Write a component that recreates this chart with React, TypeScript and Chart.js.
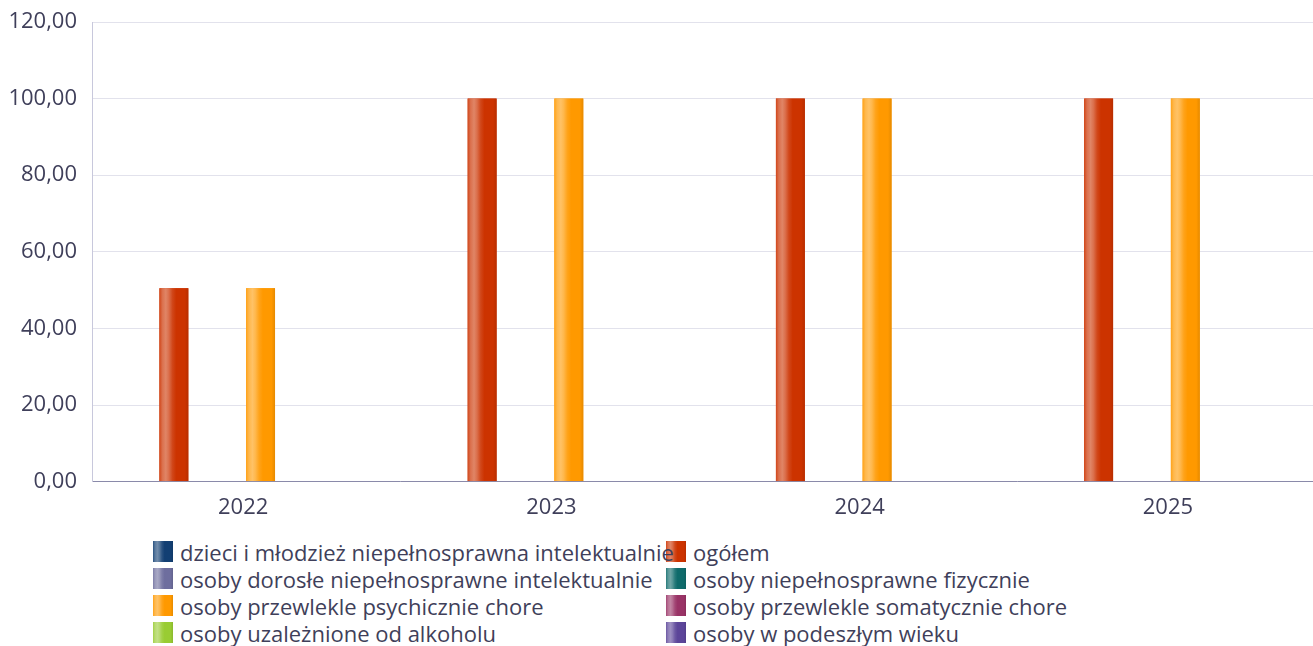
import React, { useEffect, useRef } from "react";
import { Chart, registerables } from "chart.js";

Chart.register(...registerables);

const categories = ["2022", "2023", "2024", "2025"];
const seriesNames = [
  "dzieci i młodzież niepełnosprawna intelektualnie",
  "ogółem",
  "osoby dorosłe niepełnosprawne intelektualnie",
  "osoby niepełnosprawne fizycznie",
  "osoby przewlekle psychicznie chore",
  "osoby przewlekle somatycznie chore",
  "osoby uzależnione od alkoholu",
  "osoby w podeszłym wieku",
];
const dzieci = [0, 0, 0, 0];
const ogolem = [50.5, 100, 100, 100];
const dorosle = [0, 0, 0, 0];
const fizycznie = [0, 0, 0, 0];
const psychicznie = [50.5, 100, 100, 100];
const somatycznie = [0, 0, 0, 0];
const alkohol = [0, 0, 0, 0];
const wieku = [0, 0, 0, 0];
const seriesValues = [dzieci, ogolem, dorosle, fizycznie, psychicznie, somatycznie, alkohol, wieku];
const seriesColors = ["#123f73", "#cc3300", "#6e6e9e", "#0f6b6b", "#ff9900", "#993366", "#99cc33", "#5c4599"];
const yTicks = [0, 20, 40, 60, 80, 100, 120];

const FONT = "'Open Sans', 'Noto Sans', sans-serif";
const TEXT = "#3f3f5a";

function hexToRgb(h: string) {
  const n = parseInt(h.slice(1), 16);
  return [(n >> 16) & 255, (n >> 8) & 255, n & 255];
}
function mix(h: string, t: number) {
  const [r, g, b] = hexToRgb(h);
  const f = (c: number) => Math.round(t >= 0 ? c + (255 - c) * t : c * (1 + t));
  return `rgb(${f(r)},${f(g)},${f(b)})`;
}
function stops(h: string): [number, string][] {
  return [
    [0, mix(h, 0.1)],
    [0.1, mix(h, 0.3)],
    [0.22, mix(h, 0.4)],
    [0.32, mix(h, 0.3)],
    [0.45, mix(h, 0.1)],
    [0.58, h],
    [0.88, h],
    [1, mix(h, -0.1)],
  ];
}
function cssGradient(h: string) {
  return `linear-gradient(to right, ${stops(h).map(([p, c]) => `${c} ${p * 100}%`).join(", ")})`;
}

const gradientPlugin = {
  id: "barGradient",
  afterDatasetsDraw(chart: any) {
    const ctx = chart.ctx;
    const area = chart.chartArea;
    ctx.save();
    ctx.beginPath();
    ctx.rect(area.left, area.top, area.right - area.left, area.bottom - area.top);
    ctx.clip();
    chart.data.datasets.forEach((ds: any, di: number) => {
      const meta = chart.getDatasetMeta(di);
      if (meta.hidden) return;
      const color = seriesColors[di];
      meta.data.forEach((el: any) => {
        const { x, y, base, width } = el.getProps(["x", "y", "base", "width"], true);
        const h = base - y;
        if (Math.abs(h) < 0.5) return;
        const left = x - width / 2;
        const g = ctx.createLinearGradient(left, 0, left + width, 0);
        stops(color).forEach(([p, c]) => g.addColorStop(p, c));
        ctx.fillStyle = g;
        ctx.fillRect(left, y, width, h);
      });
    });
    ctx.restore();
  },
};

export default function App() {
  const ref = useRef<HTMLCanvasElement>(null);
  useEffect(() => {
    document.body.style.margin = "0";
    document.body.style.overflow = "hidden";
    const chart = new Chart(ref.current!, {
      type: "bar",
      data: {
        labels: categories,
        datasets: seriesNames.map((name, i) => ({
          label: name,
          data: seriesValues[i],
          backgroundColor: seriesColors[i],
          borderWidth: 0,
          categoryPercentage: 0.75,
          barPercentage: 1.0,
        })),
      },
      options: {
        responsive: false,
        animation: false,
        layout: { padding: { top: 22, right: 0, bottom: 0, left: 0 } },
        plugins: { legend: { display: false }, tooltip: { enabled: false } },
        scales: {
          x: {
            grid: { display: false, drawTicks: false },
            border: { display: true, color: "#8a8aaa", width: 1 },
            ticks: { color: TEXT, font: { family: FONT, size: 22 }, padding: 13, labelOffset: -3 },
          },
          y: {
            min: 0,
            max: 120,
            afterFit: (s: any) => {
              s.width = 92;
              s.paddingTop = 0;
              s.paddingBottom = 0;
            },
            afterBuildTicks: (s: any) => {
              s.ticks = yTicks.map((v) => ({ value: v }));
            },
            grid: { color: "#e2e2ec", drawTicks: false },
            border: { display: true, color: "#c8c8dc", width: 1 },
            ticks: {
              color: TEXT,
              font: { family: FONT, size: 22 },
              padding: 15,
              callback: (v: any) => Number(v).toFixed(2).replace(".", ","),
            },
          },
        },
      },
      plugins: [gradientPlugin],
    });
    return () => chart.destroy();
  }, []);

  return (
    <div style={{ position: "relative", width: 1313, height: 646, background: "#fff", fontFamily: FONT, overflow: "hidden" }}>
      <canvas ref={ref} width={1325} height={534} style={{ display: "block" }} />
      {seriesNames.map((name, i) => {
        const row = Math.floor(i / 2);
        const col = i % 2;
        return (
          <div
            key={name}
            style={{
              position: "absolute",
              left: col === 0 ? 153 : 666,
              top: 538 + row * 27,
              height: 27,
              display: "flex",
              alignItems: "center",
              whiteSpace: "nowrap",
              fontSize: 22,
              color: TEXT,
              zIndex: col === 0 ? 2 : 1,
            }}
          >
            <span
              style={{
                display: "inline-block",
                width: 20,
                height: 21,
                background: cssGradient(seriesColors[i]),
                marginRight: 7,
                flexShrink: 0,
              }}
            />
            <span>{name}</span>
          </div>
        );
      })}
    </div>
  );
}
